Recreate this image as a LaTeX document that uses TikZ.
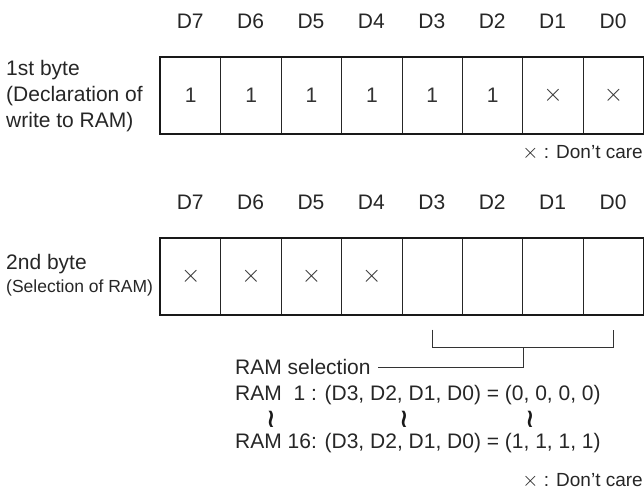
\documentclass[tikz,border=0pt]{standalone}
\usepackage{fontspec}
\setmainfont{Liberation Sans}
\newfontfamily\djv{DejaVu Sans}
\usetikzlibrary{calc}
\newcommand{\xx}{\ensuremath{\times}}
\newcommand{\bigxx}{{\fontsize{21}{24}\selectfont\xx}}
\begin{document}
\begin{tikzpicture}[x=1pt,y=-1pt,
  txt/.style={inner sep=0pt, font=\fontsize{21}{26}\selectfont, text=black!85},
  cell/.style={draw=black!85, line width=1pt, minimum width=60.4pt, minimum height=76pt, inner sep=0pt,
               anchor=north west, font=\fontsize{21}{26}\selectfont, text=black!80},
  xcell/.style={cell, font=\fontsize{24.88}{26}\selectfont},
  frame/.style={draw=black!90, line width=2pt},
  conn/.style={draw=black!80, line width=1pt},
  wave/.style={inner sep=0pt, font=\djv\bfseries\fontsize{26}{26}\selectfont, text=black!90, xscale=0.9}]
\useasboundingbox (0,0) rectangle (644,497);
% ---------- first byte ----------
\foreach \i/\n/\v/\s in {0/7/1/cell,1/6/1/cell,2/5/1/cell,3/4/1/cell,4/3/1/cell,5/2/1/cell,6/1/\xx/xcell,7/0/\xx/xcell}{
  \node[txt] (ha\i) at ({190.2+60.4*\i},21) {D\n};
  \node[\s] (a\i) at ({160+60.4*\i},57) {\v};
}
\draw[frame] (a0.north west) rectangle (a7.south east);
\node[txt, anchor=west, align=left] (la) at (6,96.5) {1st byte\\(Declaration of\\write to RAM)};
\node[txt, anchor=east, font=\fontsize{19}{24}\selectfont] (dca) at (643,153) {\bigxx\ : Don't care};
% ---------- second byte ----------
\foreach \i/\n/\v/\s in {0/7/\xx/xcell,1/6/\xx/xcell,2/5/\xx/xcell,3/4/\xx/xcell,4/3/{}/cell,5/2/{}/cell,6/1/{}/cell,7/0/{}/cell}{
  \node[txt] (hb\i) at ({190.2+60.4*\i},202) {D\n};
  \node[\s] (b\i) at ({160+60.4*\i},237.5) {\v};
}
\draw[frame] (b0.north west) rectangle (b7.south east);
\node[txt, anchor=west] (lb1) at (6,264) {2nd byte};
\node[txt, anchor=west, font=\fontsize{17.5}{21}\selectfont] (lb2) at (6,288) {(Selection of RAM)};
% ---------- RAM selection ----------
\coordinate (s3) at ($(b4.south)+(0,15)$);
\coordinate (s0) at ($(b7.south)+(0,15)$);
\coordinate (smid) at ($(b5.south east)+(0,33)$);
\node[txt, anchor=west] (sel) at (235,367) {RAM selection};
\draw[conn] (s3) |- (smid) -| (s0);
\draw[conn] (smid) |- ([xshift=7pt]sel.east);
\node[txt, anchor=west] (r1) at (235,395) {RAM\ \ 1 : (D3, D2, D1, D0) = (0, 0, 0, 0)};
\node[wave] (w1) at (271,419) {≀};
\node[wave] (w2) at (404,419) {≀};
\node[wave] (w3) at (530,419) {≀};
\node[txt, anchor=west] (r16) at (235,443) {RAM 16: (D3, D2, D1, D0) = (1, 1, 1, 1)};
\node[txt, anchor=east, font=\fontsize{19}{24}\selectfont] (dcb) at (643,481) {\bigxx\ : Don't care};
\end{tikzpicture}
\end{document}
